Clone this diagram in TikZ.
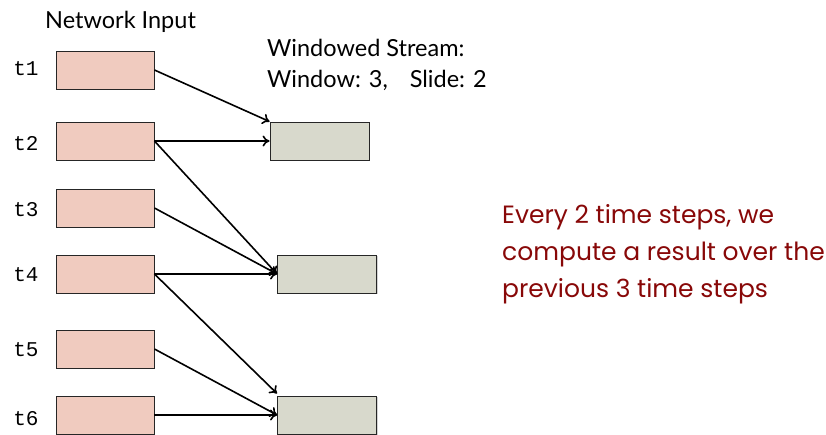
\documentclass[tikz,border=0pt]{standalone}
\usepackage{fontspec}
\setmainfont{Lato}
\newfontfamily\monofam{Liberation Mono}
\newfontfamily\notefam{Poppins}
\usetikzlibrary{arrows.meta,shadows}
\definecolor{inputfill}{HTML}{F0CBBF}
\definecolor{windowfill}{HTML}{D8D9CC}
\definecolor{notered}{HTML}{880808}
\tikzset{
  inbox/.style={draw=black!85, line width=0.9pt, fill=inputfill,
    minimum width=98pt, minimum height=38pt, inner sep=0pt,
    drop shadow={shadow xshift=1pt, shadow yshift=-1pt, opacity=0.35}},
  winbox/.style={draw=black!85, line width=0.9pt, fill=windowfill,
    minimum width=99pt, minimum height=38pt, inner sep=0pt,
    drop shadow={shadow xshift=1pt, shadow yshift=-1pt, opacity=0.35}},
  tlabel/.style={font=\monofam\fontsize{21}{24}\selectfont, anchor=center},
  heading/.style={font=\fontsize{23.5}{26}\selectfont, anchor=west, inner sep=0pt},
  feed/.style={line width=1.6pt, -{To[length=7pt,width=11pt]}},
}
\begin{document}
\begin{tikzpicture}[x=1pt,y=-1pt]
  \useasboundingbox (0,0) rectangle (826,434);
  \begin{scope}
  \clip (0,0) rectangle (826,434);

  % input records
  \node[inbox] (i1) at (105,70) {};
  \node[inbox] (i2) at (105,141) {};
  \node[inbox] (i3) at (105,208) {};
  \node[inbox] (i4) at (105,274) {};
  \node[inbox] (i5) at (105,349) {};
  \node[inbox] (i6) at (105,415) {};

  \node[tlabel] (l1) at (26,69) {t1};
  \node[tlabel] (l2) at (26,144) {t2};
  \node[tlabel] (l3) at (26,210) {t3};
  \node[tlabel] (l4) at (26,275) {t4};
  \node[tlabel] (l5) at (26,350) {t5};
  \node[tlabel] (l6) at (26,419) {t6};

  % window results
  \node[winbox] (w1) at (319.5,141) {};
  \node[winbox] (w2) at (327,274) {};
  \node[winbox] (w3) at (327,415) {};

  % feeding connectors
  \draw[feed] (i1.east) -- (w1.north west);
  \draw[feed] (i2.east) -- (w1.west);
  \draw[feed] (i2.east) -- (w2.west);
  \draw[feed] (i3.east) -- (w2.west);
  \draw[feed] (i4.east) -- (w2.west);
  \draw[feed] (i4.east) -- ([yshift=2pt]w3.north west);
  \draw[feed] (i5.east) -- (w3.west);
  \draw[feed] (i6.east) -- (w3.west);
  \end{scope}

  % headings
  \node[heading] (hin) at (45,22) {Network Input};
  \node[heading] (hws) at (267,48) {Windowed Stream:};
  \node[heading] (hwp) at (267,80) {Window: 3,\hspace{22pt}Slide: 2};

  % note
  \node[font=\notefam\fontsize{25}{37}\selectfont, text=notered, anchor=north west,
        align=left, inner sep=0pt] (note) at (502,204)
    {Every 2 time steps, we\\compute a result over the\\previous 3 time steps};
\end{tikzpicture}
\end{document}
